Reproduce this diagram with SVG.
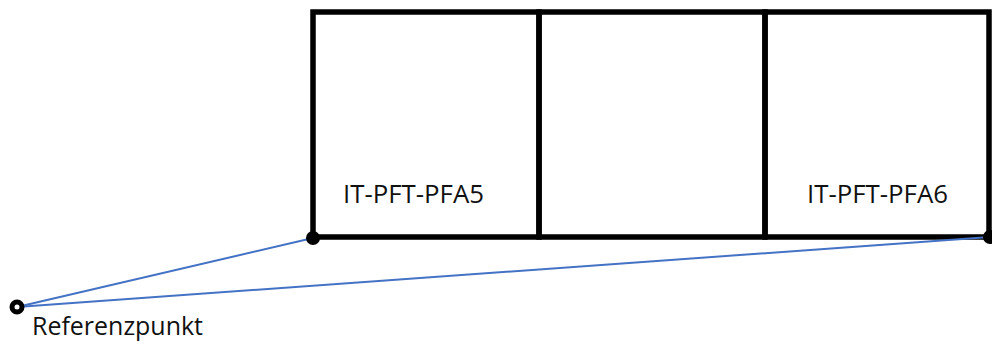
<svg xmlns="http://www.w3.org/2000/svg" width="992" height="347" viewBox="0 0 992 347">
<style>
.box{fill:none;stroke:#000;stroke-width:5.5;stroke-linecap:square}
.lbl{font-family:"Open Sans","Liberation Sans",sans-serif;font-size:26px;fill:#111}
.conn{stroke:#4472C4;stroke-width:2;fill:none}
</style>
<rect width="992" height="347" fill="#fff"/>
<g id="room-pfa5">
<rect class="box" x="313" y="12" width="226" height="225"/>
<text class="lbl" x="343" y="203" textLength="141" lengthAdjust="spacingAndGlyphs">IT-PFT-PFA5</text>
</g>
<g id="room-middle">
<rect class="box" x="539" y="12" width="226" height="225"/>
</g>
<g id="room-pfa6">
<rect class="box" x="765" y="12" width="224" height="225"/>
<text class="lbl" x="807" y="203" textLength="141" lengthAdjust="spacingAndGlyphs">IT-PFT-PFA6</text>
</g>
<g id="connectors">
<line class="conn" x1="17" y1="307" x2="313" y2="238"/>
<line class="conn" x1="17" y1="307" x2="990" y2="237"/>
</g>
<g id="point-a"><circle cx="313" cy="238" r="7" fill="#000"/></g>
<g id="point-b"><circle cx="990" cy="237" r="7" fill="#000"/></g>
<g id="referenzpunkt">
<circle cx="17" cy="307" r="5" fill="#fff" stroke="#000" stroke-width="5"/>
<text class="lbl" x="32" y="335" textLength="171" lengthAdjust="spacingAndGlyphs">Referenzpunkt</text>
</g>
</svg>
